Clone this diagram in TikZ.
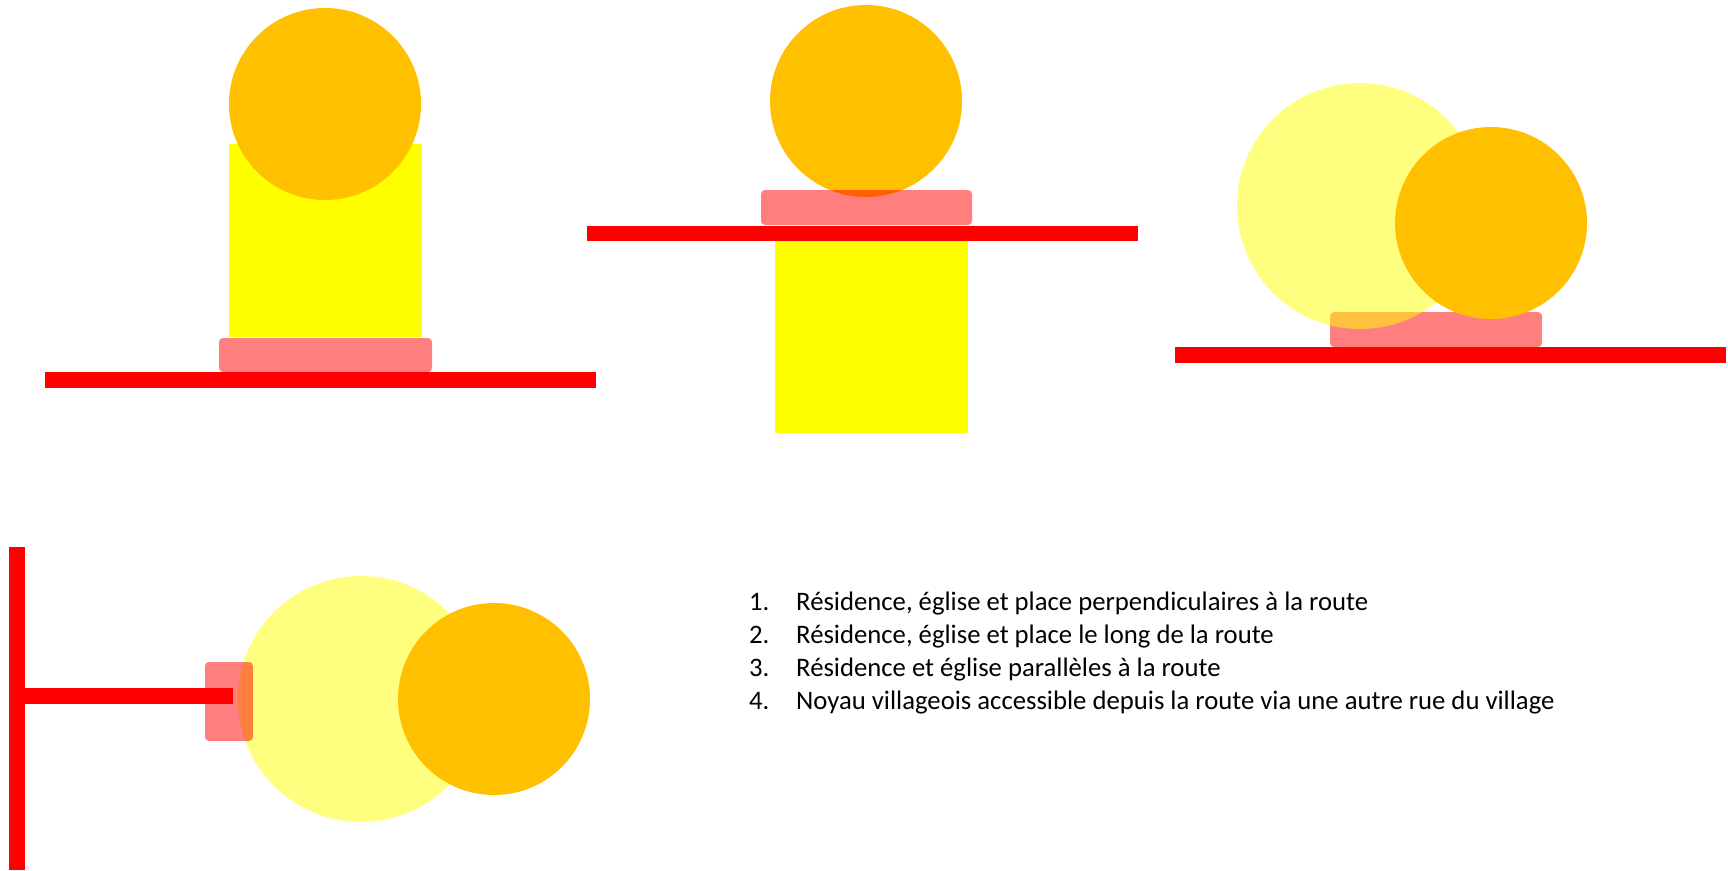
\documentclass[tikz,border=0pt]{standalone}
\usepackage{fontspec}
\setmainfont{Carlito}
\definecolor{orng}{HTML}{FFC000}
\definecolor{yel}{HTML}{FFFF00}
\definecolor{rd}{HTML}{FF0000}
\begin{document}
\begin{tikzpicture}[x=1pt,y=-1pt,
  church/.style={fill=orng},
  resid/.style={fill=yel},
  residlight/.style={fill=yel,fill opacity=0.5},
  place/.style={fill=rd,fill opacity=0.5,rounded corners=4pt},
  road/.style={fill=rd},
  item/.style={anchor=base west,inner sep=0pt,font=\fontsize{26.7}{33}\selectfont}]
\useasboundingbox (0,0) rectangle (1728,870);
% Panel 1
\path[resid] (229,144) rectangle (422,337);
\path[church] (325,104) circle (96);
\path[place] (219,338) rectangle (432,372);
\path[road] (45,372) rectangle (596,388);
% Panel 2
\path[church] (866,101) circle (96);
\path[place] (761,190) rectangle (972,225);
\path[road] (587,226) rectangle (1138,241);
\path[resid] (775,241) rectangle (968,433);
% Panel 3
\path[place] (1330,312) rectangle (1542,347);
\path[residlight] (1360,206) circle (123);
\path[church] (1491,223) circle (96);
\path[road] (1175,347) rectangle (1726,363);
% Panel 4
\path[residlight] (361,699) circle (123);
\path[church] (494,699) circle (96);
\path[place] (205,662) rectangle (253,741);
\path[road] (9,547) rectangle (25,870);
\path[road] (25,688) rectangle (233,704);
% Legend
\node[item] (n1) at (749,610) {1.};
\node[item] (t1) at (796,610) {Résidence, église et place perpendiculaires à la route};
\node[item] (n2) at (749,643) {2.};
\node[item] (t2) at (796,643) {Résidence, église et place le long de la route};
\node[item] (n3) at (749,676) {3.};
\node[item] (t3) at (796,676) {Résidence et église parallèles à la route};
\node[item] (n4) at (749,709) {4.};
\node[item] (t4) at (796,709) {Noyau villageois accessible depuis la route via une autre rue du village};
\end{tikzpicture}
\end{document}
